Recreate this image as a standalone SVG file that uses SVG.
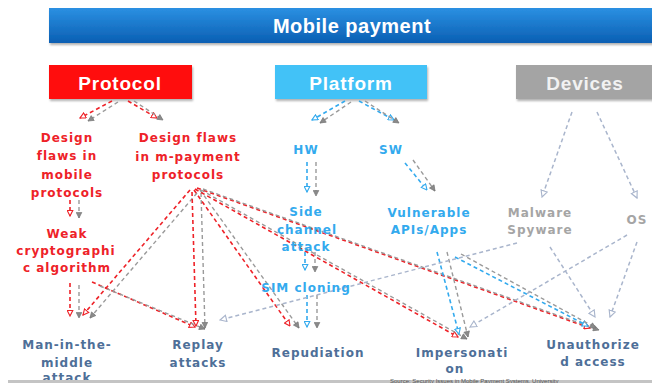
<svg xmlns="http://www.w3.org/2000/svg" width="652" height="383" viewBox="0 0 652 383">
  <defs>
    <linearGradient id="barGrad" x1="0" y1="0" x2="0" y2="1">
      <stop offset="0" stop-color="#2b90e2"/>
      <stop offset="1" stop-color="#0a5fb3"/>
    </linearGradient>
    <filter id="shadow" x="-5%" y="-20%" width="110%" height="150%">
      <feDropShadow dx="1" dy="2" stdDeviation="1.2" flood-color="#000" flood-opacity="0.3"/>
    </filter>
    <marker id="hRed" viewBox="0 0 10 10" refX="9" refY="5" markerWidth="7" markerHeight="7" markerUnits="userSpaceOnUse" orient="auto">
      <path d="M1,1 L9,5 L1,9 z" fill="#fff" stroke="#ee2228" stroke-width="1.6"/>
    </marker>
    <marker id="hBlue" viewBox="0 0 10 10" refX="9" refY="5" markerWidth="7" markerHeight="7" markerUnits="userSpaceOnUse" orient="auto">
      <path d="M1,1 L9,5 L1,9 z" fill="#fff" stroke="#33aaee" stroke-width="1.6"/>
    </marker>
    <marker id="hGrey" viewBox="0 0 10 10" refX="9" refY="5" markerWidth="7" markerHeight="7" markerUnits="userSpaceOnUse" orient="auto">
      <path d="M1,1 L9,5 L1,9 z" fill="#8a8a8a" stroke="#777" stroke-width="1"/>
    </marker>
    <marker id="hDev" viewBox="0 0 10 10" refX="9" refY="5" markerWidth="8" markerHeight="8" markerUnits="userSpaceOnUse" orient="auto">
      <path d="M1,1 L9,5 L1,9 z" fill="#fff" stroke="#a9b5cc" stroke-width="1.4"/>
    </marker>
  </defs>
  <style>
    .box { filter: url(#shadow); }
    .head { font-family: "Liberation Sans", Arial, sans-serif; font-weight: bold; text-anchor: middle; }
    .lbl { font-family: "DejaVu Sans", Verdana, sans-serif; font-weight: bold; font-size: 12px; letter-spacing: 1px; text-anchor: middle; }
    .red { fill: #ee2228; }
    .blue { fill: #33aaee; }
    .grey { fill: #a5a5a5; }
    .out { fill: #4e6f98; }
    .c { fill: none; stroke-width: 1.6; stroke-dasharray: 4 3; }
    .cr { stroke: #ee2228; marker-end: url(#hRed); }
    .cb { stroke: #33aaee; marker-end: url(#hBlue); }
    .cg { stroke: #9a9a9a; stroke-width: 1.4; marker-end: url(#hGrey); }
    .cd { stroke: #a9b5cc; stroke-width: 1.5; marker-end: url(#hDev); }
  </style>

  <rect width="652" height="383" fill="#ffffff"/>

  <!-- title bar -->
  <g id="mobile-payment">
    <rect class="box" x="49" y="8" width="615" height="35" fill="url(#barGrad)"/>
    <text class="head" x="352" y="33" font-size="20" letter-spacing="0.5" fill="#ffffff">Mobile payment</text>
  </g>

  <!-- category boxes -->
  <g id="protocol">
    <rect class="box" x="49" y="65" width="143" height="34" fill="#ff0d0d"/>
    <text class="head" x="120" y="90" font-size="19" letter-spacing="0.8" fill="#ffffff">Protocol</text>
  </g>
  <g id="platform">
    <rect class="box" x="275" y="65" width="152" height="34" fill="#42c2f7"/>
    <text class="head" x="351" y="90" font-size="19" letter-spacing="0.8" fill="#ffffff">Platform</text>
  </g>
  <g id="devices">
    <rect class="box" x="516" y="65" width="145" height="34" fill="#a4a4a4"/>
    <text class="head" x="585" y="90" font-size="19" letter-spacing="0.8" fill="#f2f2f2">Devices</text>
  </g>

  <!-- connectors: coloured dashed line plus a grey offset copy -->
  <g id="connectors">
    <!-- protocol branch -->
    <path class="c cr" d="M112,101 L80,118"/>
    <path class="c cg" d="M118,102 L88,121"/>
    <path class="c cr" d="M128,101 L157,118"/>
    <path class="c cg" d="M134,101 L163,120"/>
    <path class="c cr" d="M70,200 L70,216"/>
    <path class="c cg" d="M79,200 L79,218"/>
    <path class="c cr" d="M70,283 L70,316"/>
    <path class="c cg" d="M79,285 L79,318"/>
    <path class="c cr" d="M92,282 L195,327"/>
    <path class="c cg" d="M100,286 L205,329"/>
    <path class="c cr" d="M190,190 L83,315"/>
    <path class="c cg" d="M197,193 L90,318"/>
    <path class="c cr" d="M192,192 L196,326"/>
    <path class="c cg" d="M201,193 L205,328"/>
    <path class="c cr" d="M194,190 L290,326"/>
    <path class="c cg" d="M200,190 L299,328"/>
    <path class="c cr" d="M195,189 L458,337"/>
    <path class="c cg" d="M201,190 L467,339"/>
    <path class="c cr" d="M197,188 L590,328"/>
    <path class="c cg" d="M203,189 L599,330"/>

    <!-- platform branch -->
    <path class="c cb" d="M345,101 L312,120"/>
    <path class="c cg" d="M351,102 L320,123"/>
    <path class="c cb" d="M359,101 L394,120"/>
    <path class="c cg" d="M365,101 L399,123"/>
    <path class="c cb" d="M307,162 L307,192"/>
    <path class="c cg" d="M316,162 L316,196"/>
    <path class="c cb" d="M405,163 L427,190"/>
    <path class="c cg" d="M413,160 L435,191"/>
    <path class="c cb" d="M305,252 L305,270"/>
    <path class="c cg" d="M315,252 L315,272"/>
    <path class="c cb" d="M307,295 L307,327"/>
    <path class="c cg" d="M317,295 L317,328"/>
    <path class="c cb" d="M437,252 L459,334"/>
    <path class="c cg" d="M447,252 L468,337"/>
    <path class="c cb" d="M455,257 L588,326"/>
    <path class="c cg" d="M461,254 L596,328"/>

    <!-- devices branch -->
    <path class="c cd" d="M572,112 L542,197"/>
    <path class="c cd" d="M597,112 L637,198"/>
    <path class="c cd" d="M517,243 L220,320"/>
    <path class="c cd" d="M550,247 L595,317"/>
    <path class="c cd" d="M637,242 L610,317"/>
    <path class="c cd" d="M627,235 L470,327"/>
  </g>

  <!-- protocol sub-nodes -->
  <g id="design-flaws-mobile" class="lbl red">
    <text x="67" y="142">Design</text>
    <text x="67" y="160">flaws in</text>
    <text x="67" y="179">mobile</text>
    <text x="67" y="197">protocols</text>
  </g>
  <g id="design-flaws-mpayment" class="lbl red">
    <text x="188" y="142">Design flaws</text>
    <text x="188" y="161">in m-payment</text>
    <text x="188" y="179">protocols</text>
  </g>
  <g id="weak-crypto" class="lbl red">
    <text x="67" y="238">Weak</text>
    <text x="66" y="255">cryptographi</text>
    <text x="67" y="272">c algorithm</text>
  </g>

  <!-- platform sub-nodes -->
  <g id="hw" class="lbl blue"><text x="306" y="154">HW</text></g>
  <g id="sw" class="lbl blue"><text x="391" y="154">SW</text></g>
  <g id="side-channel" class="lbl blue">
    <text x="306" y="216">Side</text>
    <text x="307" y="234">channel</text>
    <text x="306" y="251">attack</text>
  </g>
  <g id="sim-cloning" class="lbl blue"><text x="306" y="292">SIM cloning</text></g>
  <g id="vulnerable-apis" class="lbl blue">
    <text x="429" y="217">Vulnerable</text>
    <text x="429" y="234">APIs/Apps</text>
  </g>

  <!-- device sub-nodes -->
  <g id="malware" class="lbl grey">
    <text x="540" y="217">Malware</text>
    <text x="540" y="234">Spyware</text>
  </g>
  <g id="os" class="lbl grey"><text x="637" y="224">OS</text></g>

  <!-- attacks -->
  <g id="mitm" class="lbl out">
    <text x="67" y="349">Man-in-the-</text>
    <text x="67" y="367">middle</text>
    <text x="67" y="382">attack</text>
  </g>
  <g id="replay" class="lbl out">
    <text x="198" y="349">Replay</text>
    <text x="198" y="367">attacks</text>
  </g>
  <g id="repudiation" class="lbl out"><text x="318" y="357">Repudiation</text></g>
  <g id="impersonation" class="lbl out">
    <text x="462" y="357">Impersonati</text>
    <text x="455" y="373">on</text>
  </g>
  <g id="unauthorized" class="lbl out">
    <text x="593" y="349">Unauthorize</text>
    <text x="593" y="366">d access</text>
  </g>

  <!-- footer rule and source line -->
  <rect x="8" y="380" width="644" height="3" fill="#c4c4c4"/>
  <text x="390" y="382.5" font-family="Liberation Sans, Arial, sans-serif" font-size="6" fill="#555555">Source: Security Issues in Mobile Payment Systems, University</text>
</svg>
